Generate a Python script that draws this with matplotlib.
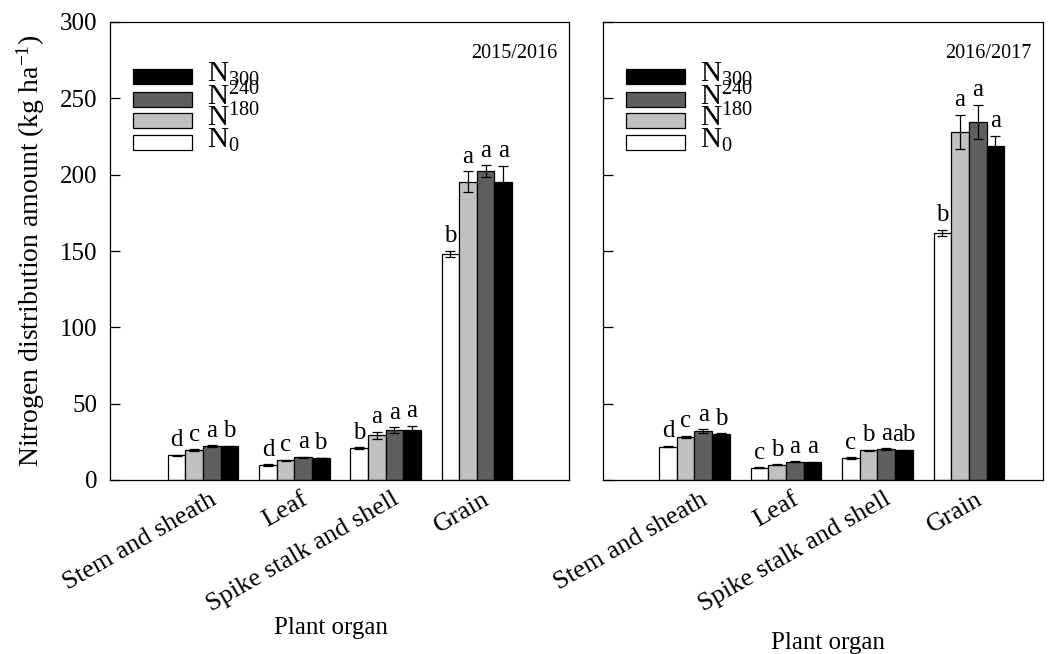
import numpy as np
import matplotlib.pyplot as plt
from matplotlib.patches import Rectangle
from matplotlib.transforms import ScaledTranslation

plt.rcParams['font.family'] = ['Liberation Serif', 'DejaVu Serif']
plt.rcParams['mathtext.fontset'] = 'custom'
plt.rcParams['mathtext.rm'] = 'Liberation Serif'
plt.rcParams['mathtext.it'] = 'Liberation Serif:italic'

organs = ['Stem and sheath', 'Leaf', 'Spike stalk and shell', 'Grain']
treatments = ['N0', 'N180', 'N240', 'N300']
legend_labels = ['N$_{300}$', 'N$^{240}$', 'N$^{180}$', 'N$_{0}$']
colors = ['white', '#c0c0c0', '#5f5f5f', 'black']

# 2015/2016 season, rows = treatment, cols = organ
mean_1516 = [[16.2, 9.8, 21.0, 148.0],
             [19.6, 12.9, 29.3, 195.5],
             [22.3, 14.9, 32.7, 202.5],
             [22.0, 14.4, 32.5, 195.0]]
err_1516 = [[0.5, 0.4, 0.4, 2.2],
            [0.5, 0.4, 2.4, 6.6],
            [0.5, 0.4, 2.0, 3.8],
            [0.4, 0.3, 3.0, 10.9]]
let_1516 = [['d', 'd', 'b', 'b'],
            ['c', 'c', 'a', 'a'],
            ['a', 'a', 'a', 'a'],
            ['b', 'b', 'a', 'a']]

# 2016/2017 season
mean_1617 = [[21.8, 8.1, 14.4, 162.0],
             [28.2, 10.0, 19.4, 228.0],
             [31.9, 12.0, 20.3, 234.5],
             [30.3, 11.6, 19.4, 219.0]]
err_1617 = [[0.5, 0.3, 0.4, 2.0],
            [0.8, 0.3, 0.5, 11.3],
            [1.2, 0.3, 0.4, 11.3],
            [0.5, 0.3, 0.4, 6.6]]
let_1617 = [['d', 'c', 'c', 'b'],
            ['c', 'b', 'b', 'a'],
            ['a', 'a', 'a', 'a'],
            ['b', 'a', 'ab', 'a']]

fig = plt.figure(figsize=(10.53, 6.54), dpi=100)
ax1 = fig.add_axes([110/1053, 174/654, 459/1053, 458/654])
ax2 = fig.add_axes([603/1053, 174/654, 440/1053, 458/654])

x = np.arange(1, len(organs) + 1)
w = 0.193


def draw_panel(ax, means, errs, letters, year, xlim, xlab_pos):
    for i in range(len(treatments)):
        xi = x + (i - 1.5) * w
        ax.bar(xi, means[i], w, color=colors[i], edgecolor='black', linewidth=0.9, zorder=2)
        ax.errorbar(xi, means[i], yerr=errs[i], fmt='none', ecolor='black',
                    elinewidth=0.9, capsize=3.5, capthick=0.9, zorder=3)
        for j in range(len(organs)):
            ax.annotate(letters[i][j], (xi[j], means[i][j] + errs[i][j]),
                        xytext=(0, 2.5), textcoords='offset points',
                        ha='center', va='bottom', fontsize=18)
    ax.set_xlim(*xlim)
    ax.set_ylim(0, 300)
    ax.set_yticks(np.arange(0, 301, 50))
    ax.tick_params(axis='y', direction='in', length=7, width=0.9, labelsize=18, pad=9)
    ax.tick_params(axis='x', length=0, labelsize=19, pad=6)
    ax.set_xticks(x)
    ax.set_xticklabels(organs, rotation=30, ha='right', va='top', rotation_mode='anchor')
    off = ScaledTranslation(6/100, 0, fig.dpi_scale_trans)
    for lab in ax.get_xticklabels():
        lab.set_transform(lab.get_transform() + off)
    for s in ax.spines.values():
        s.set_linewidth(0.9)
    ax.text(1 - 12/ax.bbox.width, (480-58)/458, year, transform=ax.transAxes,
            ha='right', va='baseline', fontsize=14.5)
    ax.text(xlab_pos[0], xlab_pos[1], 'Plant organ', transform=ax.transAxes,
            ha='center', va='center', fontsize=18)

    # legend box entries, top to bottom: N300, N240, N180, N0
    aw = ax.bbox.width
    tops = [69, 92, 113, 135]
    for k, lab in enumerate(legend_labels):
        c = colors[3 - k]
        yb = (480 - tops[k] - 15) / 458
        ax.add_patch(Rectangle((23/aw, yb), 59/aw, 15/458, transform=ax.transAxes,
                               facecolor=c, edgecolor='black', linewidth=0.9,
                               clip_on=False, zorder=4))
        ax.text(97/aw, yb + 2/458, lab, transform=ax.transAxes, ha='left',
                va='baseline', fontsize=21)


draw_panel(ax1, mean_1516, err_1516, let_1516, '2015/2016', (-0.02, 5.01),
           ((331-110)/459, (480-628)/458))
draw_panel(ax2, mean_1617, err_1617, let_1617, '2016/2017', (0.0, 4.81),
           ((828-603)/440, (480-643)/458))
ax2.set_yticklabels([])

ax1.set_ylabel('Nitrogen distribution amount (kg ha$^{-1}$)', fontsize=20, labelpad=9)

fig.savefig('out.png', dpi=100)
